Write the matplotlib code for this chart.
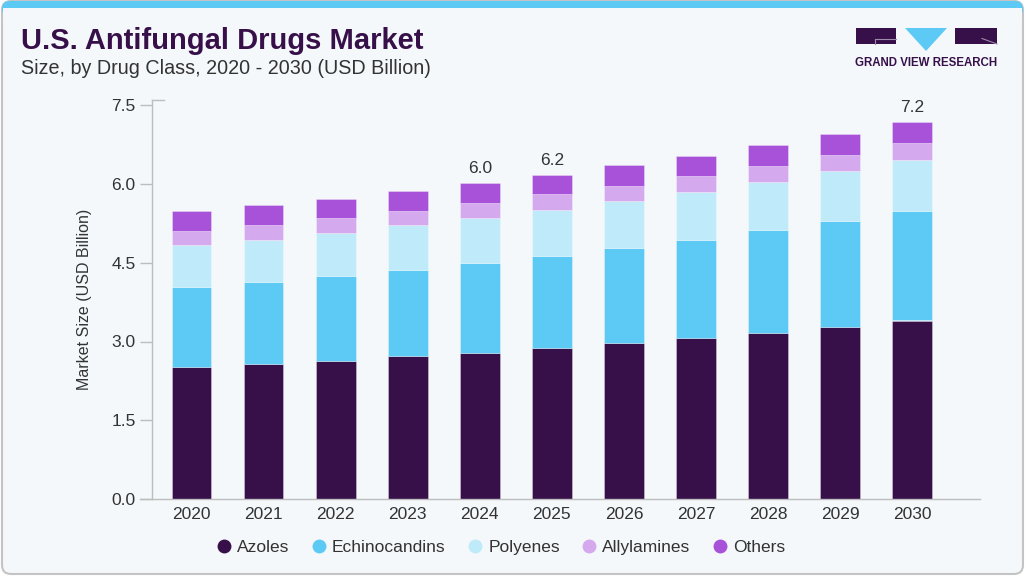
import matplotlib
matplotlib.use("Agg")
import matplotlib.pyplot as plt
from matplotlib.patches import FancyBboxPatch, Rectangle, Polygon
from matplotlib.lines import Line2D
import numpy as np

years = ["2020", "2021", "2022", "2023", "2024", "2025",
         "2026", "2027", "2028", "2029", "2030"]
azoles = [2.51, 2.58, 2.63, 2.72, 2.79, 2.87, 2.97, 3.06, 3.17, 3.28, 3.40]
echinocandins = [1.52, 1.55, 1.61, 1.65, 1.71, 1.76, 1.82, 1.88, 1.95, 2.01, 2.08]
polyenes = [0.80, 0.81, 0.82, 0.84, 0.85, 0.88, 0.88, 0.91, 0.91, 0.95, 0.98]
allylamines = [0.28, 0.28, 0.29, 0.28, 0.29, 0.30, 0.30, 0.30, 0.32, 0.32, 0.32]
others = [0.37, 0.38, 0.37, 0.38, 0.38, 0.37, 0.39, 0.39, 0.39, 0.39, 0.40]
labelled_years = ["2024", "2025", "2030"]

series = [
    ("Azoles", azoles, "#37104A"),
    ("Echinocandins", echinocandins, "#5DCAF6"),
    ("Polyenes", polyenes, "#BEEAF9"),
    ("Allylamines", allylamines, "#D5A9EE"),
    ("Others", others, "#A752D9"),
]

plt.rcParams["font.family"] = ["Liberation Sans", "DejaVu Sans"]

W, H = 1025, 576
fig = plt.figure(figsize=(W / 100, H / 100), dpi=100)
fig.patch.set_facecolor("white")

# card background in pixel coordinates
bg = fig.add_axes([0, 0, 1, 1])
bg.set_xlim(0, W)
bg.set_ylim(H, 0)
bg.axis("off")
card_bg = "#F4F8FB"
bg.add_patch(FancyBboxPatch((2, 1), W - 4, H - 3, boxstyle="round,pad=0,rounding_size=9",
                            facecolor=card_bg, edgecolor="#C4C4C4", linewidth=1.5))
bg.add_patch(FancyBboxPatch((2, 1), W - 4, 16, boxstyle="round,pad=0,rounding_size=8",
                            facecolor="#5DCAF6", edgecolor="none"))
bg.add_patch(Rectangle((3, 8), W - 6, 12, facecolor=card_bg, edgecolor="none"))

bg.text(21, 41, "U.S. Antifungal Drugs Market", fontsize=21, fontweight="bold",
        color="#37104A", va="center", ha="left")
bg.text(21, 69, "Size, by Drug Class, 2020 - 2030 (USD Billion)", fontsize=14.2,
        color="#333333", va="center", ha="left")

# logo
logo = "#37104A"
bg.add_patch(Rectangle((856, 28), 40, 16, facecolor=logo, edgecolor="none"))
bg.add_patch(Rectangle((955, 28), 42, 16, facecolor=logo, edgecolor="none"))
bg.add_patch(Polygon([(905, 28), (947, 28), (926, 51)], closed=True,
                     facecolor="#5DCAF6", edgecolor="none"))
line_c = "#9E8AAB"
bg.add_line(Line2D([875, 896], [38.5, 38.5], color=line_c, linewidth=0.8))
bg.add_line(Line2D([875, 875], [38.5, 44], color=line_c, linewidth=0.8))
bg.add_line(Line2D([982, 997], [38.5, 44], color=line_c, linewidth=0.8))
bg.text(926.5, 63.5, "GRAND VIEW RESEARCH", fontsize=8.3, fontweight="bold",
        color=logo, ha="center", va="center")

# chart
ax = fig.add_axes([151.7 / W, 1 - 499 / H, (980 - 151.7) / W, (499 - 100) / H])
ax.set_facecolor("none")
x = np.arange(len(years))
bottom = np.zeros(len(years))
for name, vals, color in series:
    ax.bar(x, vals, width=0.55, bottom=bottom, color=color, label=name,
           edgecolor=(1, 1, 1, 0.35), linewidth=0.6, zorder=2)
    bottom += np.array(vals)

for i, yr in enumerate(years):
    if yr in labelled_years:
        ax.annotate(f"{bottom[i]:.1f}", (x[i], bottom[i]), xytext=(0, 5),
                    textcoords="offset points", ha="center", va="bottom",
                    fontsize=12.5, color="#333333")

ax.set_xlim(-0.553, 10.94)
ax.set_ylim(0, 7.6)
ax.set_yticks([0, 1.5, 3.0, 4.5, 6.0, 7.5])
ax.set_yticklabels(["0.0", "1.5", "3.0", "4.5", "6.0", "7.5"])
ax.set_xticks(x)
ax.set_xticklabels(years)
ax.tick_params(axis="y", length=8.5, width=1, color="#BDBDBD", labelsize=12.5,
               labelcolor="#333333", pad=3)
ax.tick_params(axis="x", length=0, labelsize=12.5, labelcolor="#333333", pad=6)
for s in ["top", "right"]:
    ax.spines[s].set_visible(False)
for s in ["left", "bottom"]:
    ax.spines[s].set_color("#BDBDBD")
    ax.spines[s].set_linewidth(1)
ax.spines["bottom"].set_bounds(-0.553 - 12 / 72.1, 10.94)
ax.spines["bottom"].set_clip_on(False)
ax.set_ylabel("Market Size (USD Billion)", fontsize=11.5, color="#333333", labelpad=14)
ax.plot([0, 12 / (980 - 151.7)], [1, 1], transform=ax.transAxes, color="#BDBDBD",
        linewidth=1, clip_on=False)

handles = [Line2D([], [], marker="o", linestyle="none", markersize=10,
                  markerfacecolor=c, markeredgecolor="none") for _, _, c in series]
fig.legend(handles, [n for n, _, _ in series], loc="center", ncol=5,
           bbox_to_anchor=(0.489, 1 - 547 / H), frameon=False, fontsize=12.5,
           handlelength=0.8, handletextpad=0.35, columnspacing=1.3,
           labelcolor="#333333")

fig.savefig("out.png", dpi=100, facecolor=fig.get_facecolor())
